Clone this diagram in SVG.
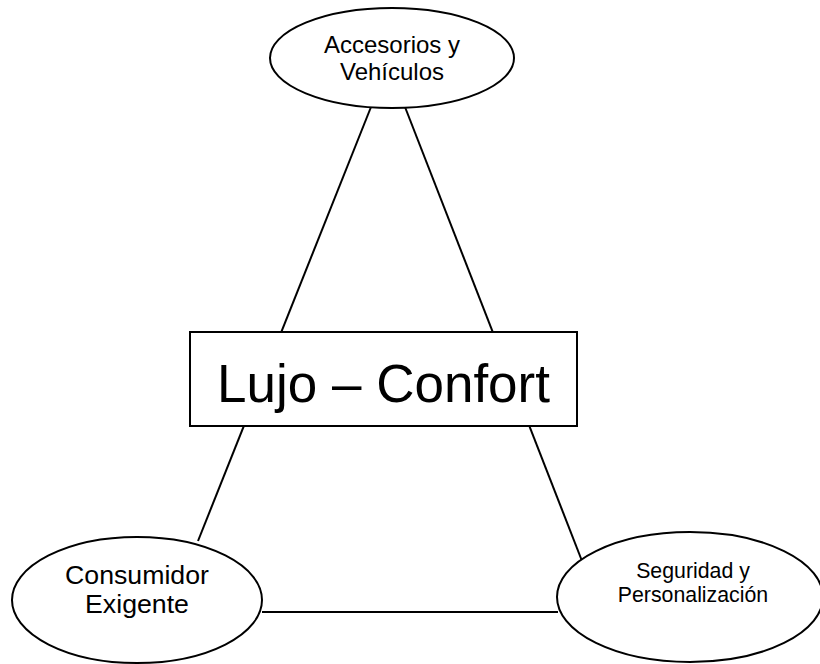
<svg xmlns="http://www.w3.org/2000/svg" width="820" height="664" viewBox="0 0 820 664">
  <style>
    .edge { stroke: #000; stroke-width: 2; fill: none; }
    .shape { stroke: #000; stroke-width: 2; fill: #fff; }
    .label { font-family: "Liberation Sans", Arial, sans-serif; fill: #000; text-anchor: middle; }
  </style>
  <rect width="820" height="664" fill="#fff"/>

  <!-- connectors (the centre box is drawn over the two long sides) -->
  <g id="connectors">
    <line class="edge" x1="371" y1="107" x2="198" y2="541"/>
    <line class="edge" x1="405" y1="107" x2="582" y2="561"/>
    <line class="edge" x1="262" y1="612" x2="558" y2="612"/>
  </g>

  <g id="node-accesorios">
    <ellipse class="shape" cx="392" cy="58" rx="122" ry="50"/>
    <text class="label" x="392" y="53" font-size="24">Accesorios y</text>
    <text class="label" x="392" y="80" font-size="24">Vehículos</text>
  </g>

  <g id="node-lujo">
    <rect class="shape" x="190" y="332" width="387" height="94"/>
    <text class="label" x="383.5" y="402" font-size="53">Lujo – Confort</text>
  </g>

  <g id="node-consumidor">
    <ellipse class="shape" cx="137" cy="600" rx="125" ry="63"/>
    <text class="label" x="137" y="584" font-size="26.7">Consumidor</text>
    <text class="label" x="137" y="613" font-size="26.7">Exigente</text>
  </g>

  <g id="node-seguridad">
    <ellipse class="shape" cx="690" cy="597" rx="133" ry="65"/>
    <text class="label" x="693" y="578" font-size="21.3">Seguridad y</text>
    <text class="label" x="693" y="602" font-size="21.3">Personalización</text>
  </g>
</svg>
